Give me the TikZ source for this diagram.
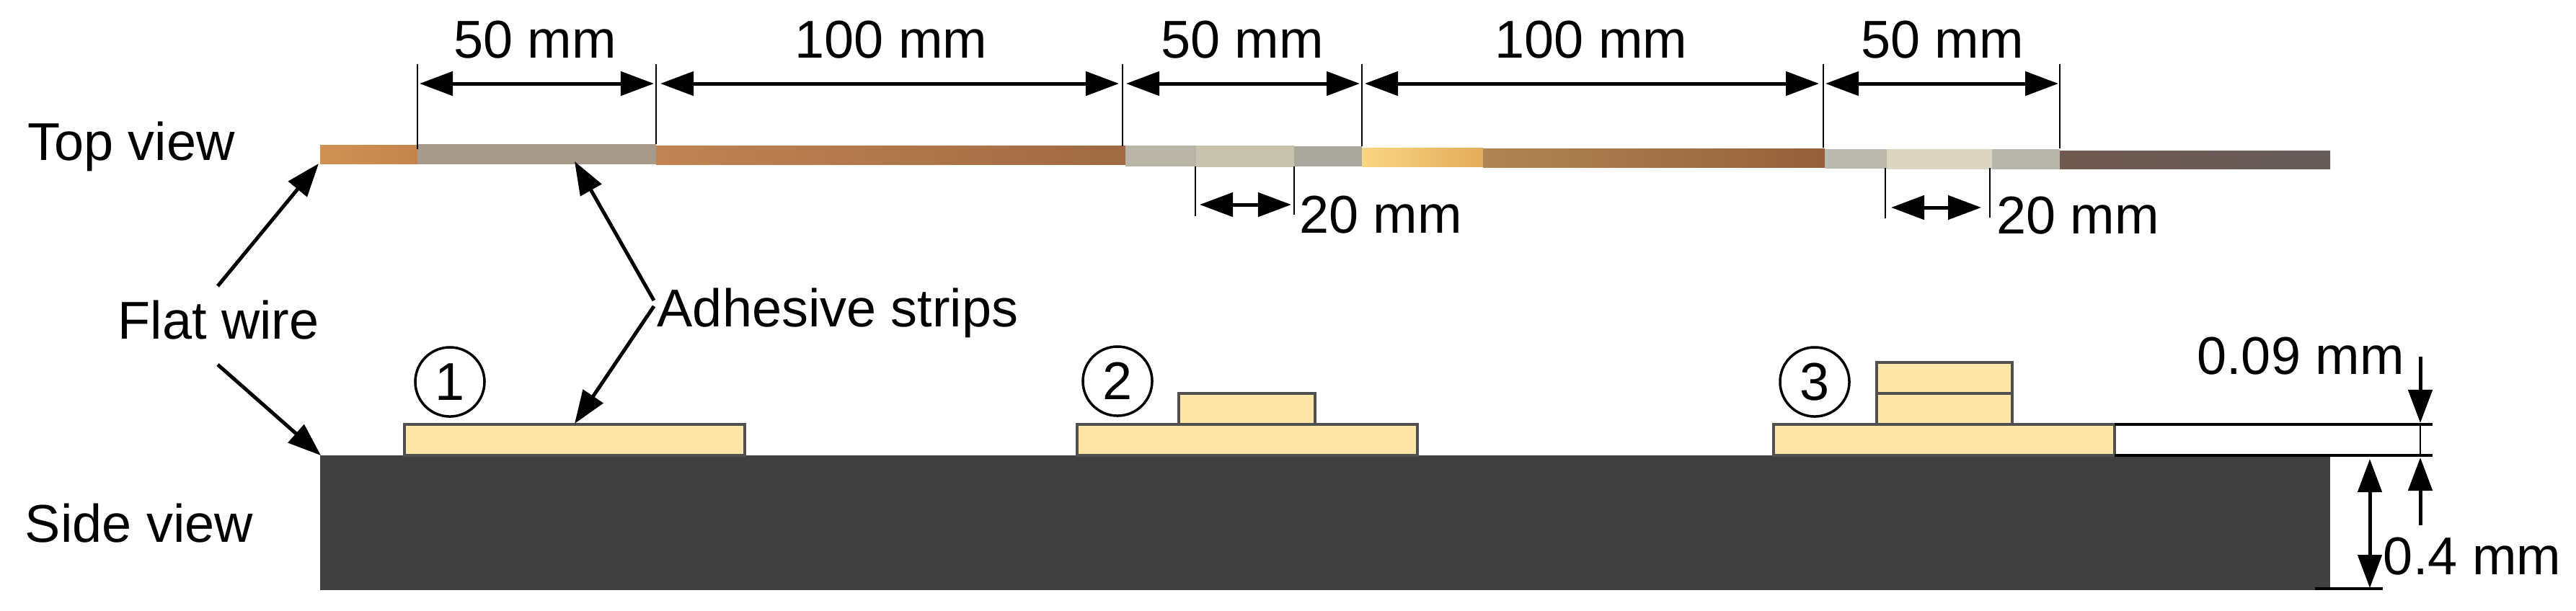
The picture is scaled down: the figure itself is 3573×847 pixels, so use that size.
\documentclass[tikz,border=0pt]{standalone}
\usepackage{fontspec}
\setmainfont{Liberation Sans}
\usetikzlibrary{arrows.meta}
\definecolor{tapefill}{HTML}{FEE5A8}
\definecolor{tapeedge}{HTML}{505050}
\definecolor{wireside}{HTML}{404040}
\tikzset{
    lbl/.style={inner sep=0pt, anchor=base, font=\fontsize{21}{25}\selectfont},
    dimline/.style={line width=0.05cm, {Triangle[length=0.46cm,width=0.33cm]}-{Triangle[length=0.46cm,width=0.33cm]}},
    leader/.style={line width=0.05cm, -{Triangle[length=0.46cm,width=0.33cm]}},
    tickline/.style={line width=0.027cm},
    refline/.style={line width=0.035cm},
    tape/.style={draw=tapeedge, fill=tapefill, line width=0.035cm},
    stepnum/.style={lbl, anchor=center, circle, draw, line width=0.035cm, minimum size=0.96cm}
}
\begin{document}
\begin{tikzpicture}[x=0.01cm,y=-0.01cm]
    \useasboundingbox (0,0) rectangle (3573,847);

    % Top view: the wire
    \shade[left color={rgb,255:red,208;green,146;blue,84}, right color={rgb,255:red,196;green,132;blue,76}] (444,201) rectangle (579,227);
    \shade[left color={rgb,255:red,192;green,132;blue,84}, middle color={rgb,255:red,136;green,84;blue,48}, right color={rgb,255:red,160;green,106;blue,66}] (910,202) rectangle (1561,228);
    \shade[left color={rgb,255:red,250;green,214;blue,130}, right color={rgb,255:red,226;green,172;blue,92}] (1889,205) rectangle (2057,231);
    \shade[left color={rgb,255:red,176;green,134;blue,84}, right color={rgb,255:red,150;green,96;blue,58}] (2057,206) rectangle (2531,232);
    \shade[left color={rgb,255:red,112;green,90;blue,80}, right color={rgb,255:red,102;green,92;blue,90}] (2857,209) rectangle (3232,234);

    % Top view: the strips
    \fill[fill={rgb,255:red,168;green,154;blue,138}] (579,200) rectangle (910,228);
    \fill[fill={rgb,255:red,184;green,180;blue,166}] (1561,202) rectangle (1659,231);
    \fill[fill={rgb,255:red,200;green,195;blue,172}] (1659,202) rectangle (1795,232);
    \fill[fill={rgb,255:red,170;green,168;blue,158}] (1795,203) rectangle (1889,231);
    \fill[fill={rgb,255:red,186;green,186;blue,174}] (2531,207) rectangle (2617,234);
    \fill[fill={rgb,255:red,220;green,214;blue,192}] (2617,207) rectangle (2763,235);
    \fill[fill={rgb,255:red,182;green,183;blue,170}] (2763,207) rectangle (2857,235);

    % Side view
    \fill[wireside] (444,632) rectangle (3232,819);
    \draw[tape] (561,589) rectangle (1033,632);
    \draw[tape] (1494,589) rectangle (1966,632);
    \draw[tape] (1635,546) rectangle (1824,589);
    \draw[tape] (2460,589) rectangle (2933,632);
    \draw[tape] (2603,546) rectangle (2791,589);
    \draw[tape] (2603,503) rectangle (2791,546);

    \node[stepnum] (step1) at (624,530) {1};
    \node[stepnum] (step2) at (1550,529) {2};
    \node[stepnum] (step3) at (2517,530) {3};

    % Labels
    \node[lbl] (topview) at (182,222) {Top view};
    \node[lbl] (sideview) at (193,752) {Side view};
    \node[lbl] (flatwire) at (303,470) {Flat wire};
    \node[lbl, anchor=base west] (adhesive) at (911,453) {Adhesive strips};
    \node[lbl] (dimA) at (742,80) {50 mm};
    \node[lbl] (dimB) at (1236,80) {100 mm};
    \node[lbl] (dimC) at (1723,80) {50 mm};
    \node[lbl] (dimD) at (2207,80) {100 mm};
    \node[lbl] (dimE) at (2694,80) {50 mm};
    \node[lbl] (dimF) at (1915,323) {20 mm};
    \node[lbl] (dimG) at (2882,324) {20 mm};
    \node[lbl] (dimH) at (3191,519) {0.09 mm};
    \node[lbl] (dimI) at (3429,797) {0.4 mm};

    % Dimension ticks, top view
    \coordinate (t1) at (579,89);   \coordinate (u1) at (579,207);
    \coordinate (t2) at (910,89);   \coordinate (u2) at (910,200);
    \coordinate (t3) at (1557,89);  \coordinate (u3) at (1557,203);
    \coordinate (t4) at (1889,89);  \coordinate (u4) at (1889,203);
    \coordinate (t5) at (2529,89);  \coordinate (u5) at (2529,205);
    \coordinate (t6) at (2857,89);  \coordinate (u6) at (2857,206);
    \draw[tickline] (t1) -- (u1);
    \draw[tickline] (t2) -- (u2);
    \draw[tickline] (t3) -- (u3);
    \draw[tickline] (t4) -- (u4);
    \draw[tickline] (t5) -- (u5);
    \draw[tickline] (t6) -- (u6);

    \coordinate (p1) at (582,116);  \coordinate (q1) at (907,116);
    \coordinate (p2) at (916,116);  \coordinate (q2) at (1552,116);
    \coordinate (p3) at (1562,116); \coordinate (q3) at (1886,116);
    \coordinate (p4) at (1893,116); \coordinate (q4) at (2523,116);
    \coordinate (p5) at (2532,116); \coordinate (q5) at (2855,116);
    \draw[dimline] (p1) -- (q1);
    \draw[dimline] (p2) -- (q2);
    \draw[dimline] (p3) -- (q3);
    \draw[dimline] (p4) -- (q4);
    \draw[dimline] (p5) -- (q5);

    % The two 20 mm parts
    \coordinate (v1) at (1658,231); \coordinate (w1) at (1658,300);
    \coordinate (v2) at (1795,231); \coordinate (w2) at (1795,298);
    \coordinate (v3) at (2615,233); \coordinate (w3) at (2615,303);
    \coordinate (v4) at (2760,233); \coordinate (w4) at (2760,302);
    \draw[tickline] (v1) -- (w1);
    \draw[tickline] (v2) -- (w2);
    \draw[tickline] (v3) -- (w3);
    \draw[tickline] (v4) -- (w4);
    \coordinate (p6) at (1664,284); \coordinate (q6) at (1791,284);
    \coordinate (p7) at (2623,288); \coordinate (q7) at (2748,288);
    \draw[dimline] (p6) -- (q6);
    \draw[dimline] (p7) -- (q7);

    % Leaders
    \coordinate (fw1) at (302,397);  \coordinate (fwtop) at (442,227);
    \coordinate (fw2) at (302,506);  \coordinate (fwside) at (445,632);
    \coordinate (ad1) at (907,417);  \coordinate (adtop) at (797,224);
    \coordinate (ad2) at (907,425);  \coordinate (adside) at (797,588);
    \draw[leader] (fw1) -- (fwtop);
    \draw[leader] (fw2) -- (fwside);
    \draw[leader] (ad1) -- (adtop);
    \draw[leader] (ad2) -- (adside);

    % Thickness on the right
    \coordinate (r1) at (2933,589); \coordinate (r2) at (3374,589);
    \coordinate (r3) at (2933,632); \coordinate (r4) at (3374,632);
    \coordinate (r5) at (3211,817); \coordinate (r6) at (3305,817);
    \draw[refline] (r1) -- (r2);
    \draw[refline] (r3) -- (r4);
    \draw[refline] (r5) -- (r6);
    \coordinate (s1) at (3357,589); \coordinate (s2) at (3357,632);
    \draw[tickline] (s1) -- (s2);
    \coordinate (s3) at (3357,495); \coordinate (s4) at (3357,587);
    \coordinate (s5) at (3357,729); \coordinate (s6) at (3357,635);
    \draw[leader] (s3) -- (s4);
    \draw[leader] (s5) -- (s6);
    \coordinate (s7) at (3287,637); \coordinate (s8) at (3287,816);
    \draw[dimline] (s7) -- (s8);
\end{tikzpicture}
\end{document}
